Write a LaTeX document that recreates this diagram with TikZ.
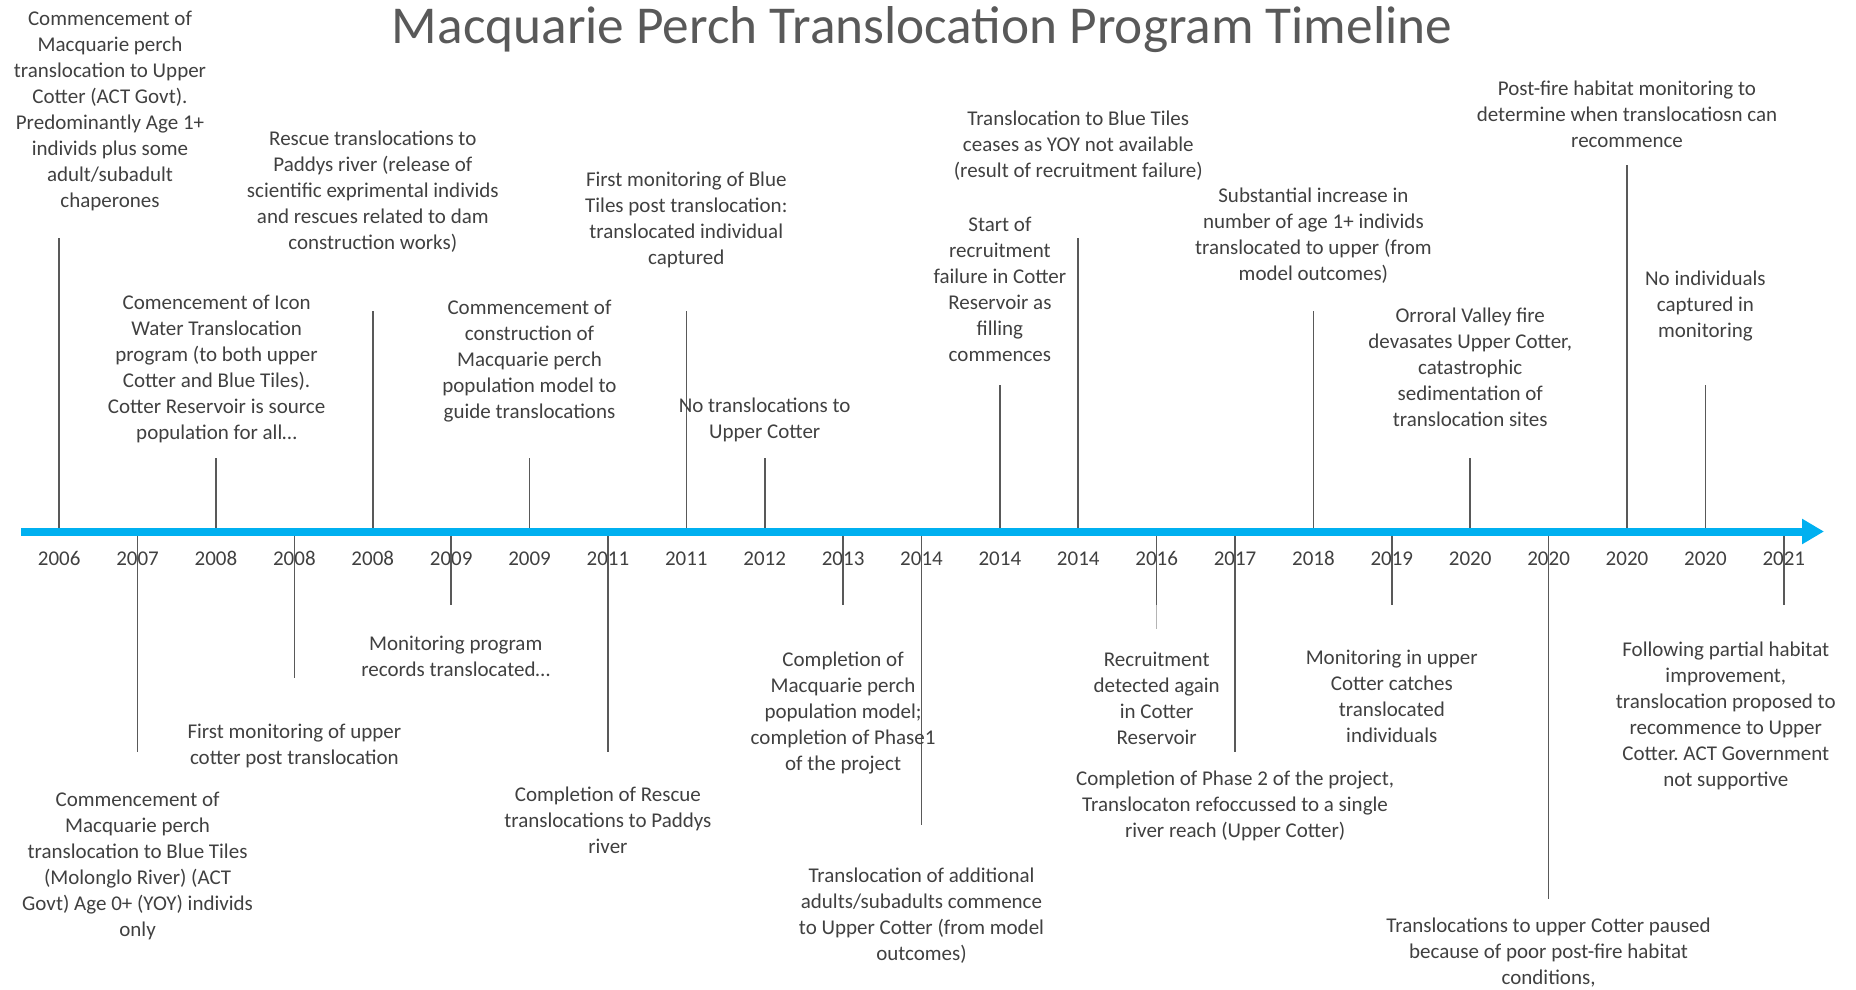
\documentclass[tikz,border=0pt]{standalone}
\usepackage{fontspec}
\setmainfont{Carlito}
\usetikzlibrary{arrows.meta}
\definecolor{axisblue}{HTML}{00B0F0}
\definecolor{tickgrey}{HTML}{595959}
\definecolor{textgrey}{HTML}{404040}
\frenchspacing
\begin{document}
\begin{tikzpicture}[x=1pt,y=-1pt,
  evt/.style={anchor=north,inner sep=0pt,align=center,text=textgrey,yshift=-4.5pt,
    font=\fontsize{21}{26}\selectfont,execute at begin node=\strut},
  yr/.style={inner sep=0pt,text=textgrey,font=\fontsize{21}{26}\selectfont},
  tick/.style={draw=tickgrey,line width=1.6pt},
  axisline/.style={draw=axisblue,line width=8pt,
    -{Triangle[length=22pt,width=24pt]}}]
\useasboundingbox (0,0) rectangle (1856,989);
\node[anchor=base,inner sep=0pt,text=tickgrey,font=\fontsize{53.3}{64}\selectfont]
  (title) at (922,43) {Macquarie Perch Translocation Program Timeline};
% years, ticks
\foreach \i/\yr/\lv in {0/2006/4,1/2007/-3,2/2008/1,3/2008/-2,4/2008/3,5/2009/-1,
    6/2009/1,7/2011/-3,8/2011/3,9/2012/1,10/2013/-1,11/2014/-4,12/2014/2,
    13/2014/4,14/2016/-1,15/2017/-3,16/2018/3,17/2019/-1,18/2020/1,
    19/2020/-5,20/2020/5,21/2020/2,22/2021/-1}{
  \node[yr] (y\i) at ({59.2+78.39*\i},558.7) {\yr};
  \coordinate (p\i) at ({59.2+78.39*\i},531.5);
  \coordinate (q\i) at ({59.2+78.39*\i},{531.5-73.4*\lv});
  \draw[tick] (p\i) -- (q\i);
}
\coordinate (q14b) at ({59.2+78.39*14},629);
\draw[tick,draw=tickgrey!45] (q14) -- (q14b);
% axis
\coordinate (axS) at (21,531.5);
\coordinate (axE) at (1824,531.5);
\draw[axisline] (axS) -- (axE);
% above
\node[evt] (ev0) at (110,6.6) {Commencement of\\Macquarie perch\\translocation to Upper\\Cotter (ACT Govt).\\Predominantly Age 1+\\individs plus some\\adult/subadult\\chaperones};
\node[evt] (ev2) at (216.6,290.6) {Comencement of Icon\\Water Translocation\\program (to both upper\\Cotter and Blue Tiles).\\Cotter Reservoir is source\\population for all…};
\node[evt] (ev4) at (372.8,126.1) {Rescue translocations to\\Paddys river (release of\\scientific exprimental individs\\and rescues related to dam\\construction works)};
\node[evt] (ev6) at (529.5,295.4) {Commencement of\\construction of\\Macquarie perch\\population model to\\guide translocations};
\node[evt] (ev8) at (686.3,167.5) {First monitoring of Blue\\Tiles post translocation:\\translocated individual\\captured};
\node[evt] (ev9) at (764.7,393.6) {No translocations to\\Upper Cotter};
\node[evt] (ev12) at (999.9,212.5) {Start of\\recruitment\\failure in Cotter\\Reservoir as\\filling\\commences};
\node[evt] (ev13) at (1078.3,106) {Translocation to Blue Tiles\\ceases as YOY not available\\(result of recruitment failure)};
\node[evt] (ev16) at (1313.4,182.9) {Substantial increase in\\number of age 1+ individs\\translocated to upper (from\\model outcomes)};
\node[evt] (ev18) at (1470.2,303.7) {Orroral Valley fire\\devasates Upper Cotter,\\catastrophic\\sedimentation of\\translocation sites};
\node[evt] (ev20) at (1627,76.4) {Post-fire habitat monitoring to\\determine when translocatiosn can\\recommence};
\node[evt] (ev21) at (1705.4,265.8) {No individuals\\captured in\\monitoring};
% below
\node[evt] (ev1) at (137.6,787.8) {Commencement of\\Macquarie perch\\translocation to Blue Tiles\\(Molonglo River) (ACT\\Govt) Age 0+ (YOY) individs\\only};
\node[evt] (ev3) at (294.4,719.1) {First monitoring of upper\\cotter post translocation};
\node[evt] (ev5) at (455.7,631.5) {Monitoring program\\records translocated…};
\node[evt] (ev7) at (607.9,781.9) {Completion of Rescue\\translocations to Paddys\\river};
\node[evt] (ev10) at (843.1,646.9) {Completion of\\Macquarie perch\\population model;\\completion of Phase1\\of the project};
\node[evt] (ev11) at (921.5,863.6) {Translocation of additional\\adults/subadults commence\\to Upper Cotter (from model\\outcomes)};
\node[evt] (ev14) at (1156.7,646.9) {Recruitment\\detected again\\in Cotter\\Reservoir};
\node[evt] (ev15) at (1235.1,766.5) {Completion of Phase 2 of the project,\\Translocaton refoccussed to a single\\river reach (Upper Cotter)};
\node[evt] (ev17) at (1391.8,645.8) {Monitoring in upper\\Cotter catches\\translocated\\individuals};
\node[evt] (ev19) at (1548.6,913.3) {Translocations to upper Cotter paused\\because of poor post-fire habitat\\conditions,};
\node[evt] (ev22) at (1725.8,637.5) {Following partial habitat\\improvement,\\translocation proposed to\\recommence to Upper\\Cotter. ACT Government\\not supportive};
\end{tikzpicture}
\end{document}
